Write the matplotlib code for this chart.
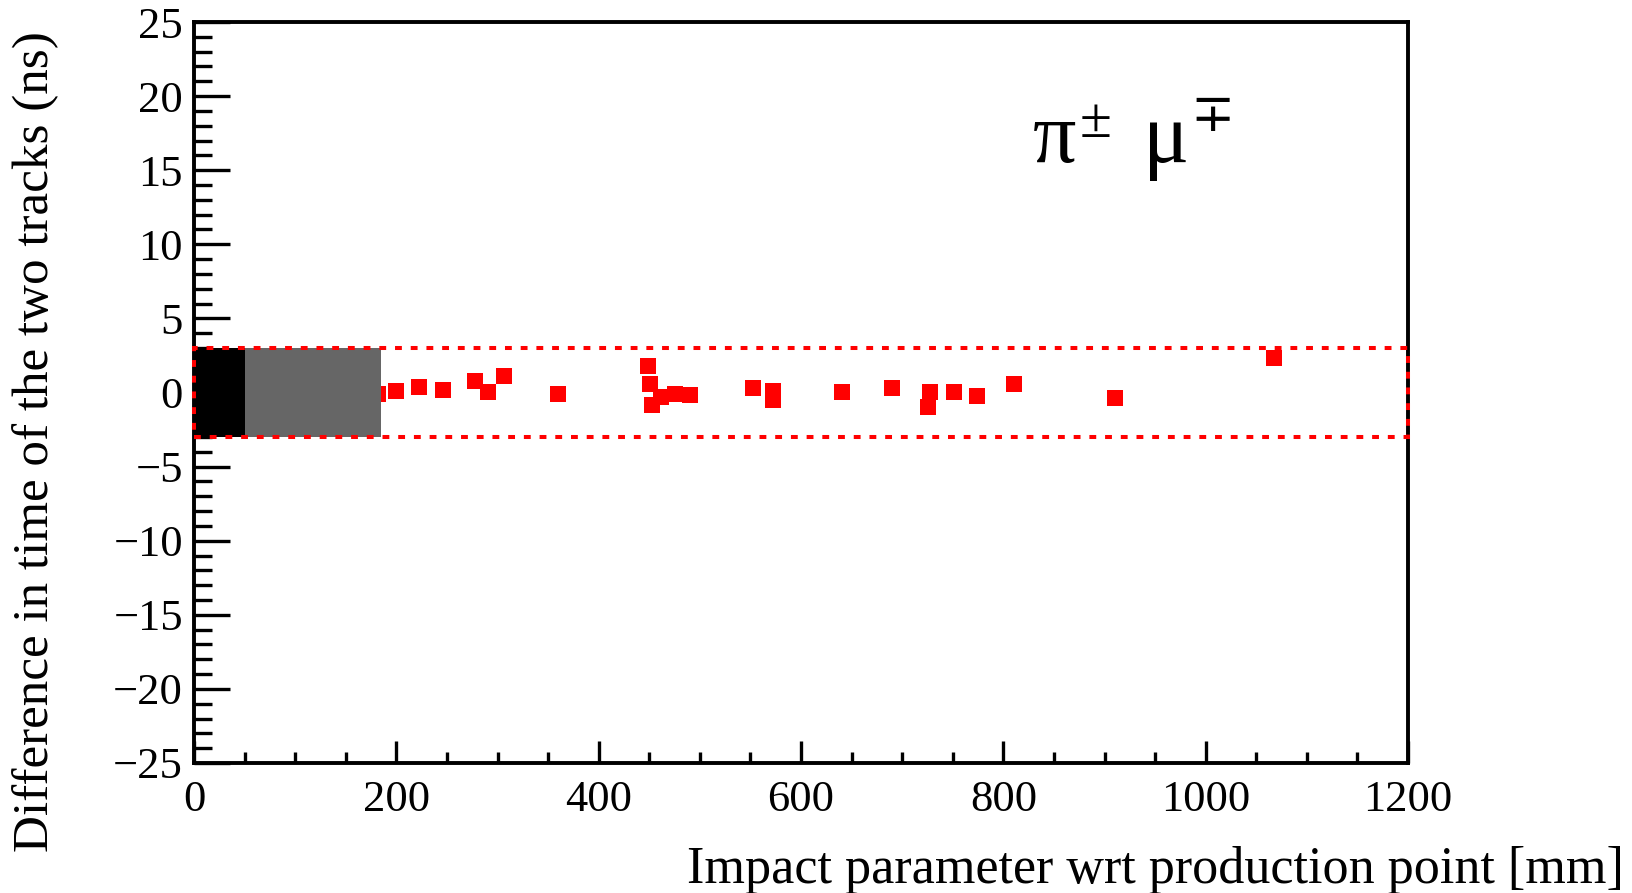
import matplotlib
matplotlib.use("Agg")
import matplotlib.pyplot as plt
from matplotlib.patches import Rectangle
from matplotlib.ticker import MultipleLocator

# Selected pi-mu candidate pairs
impact_mm = [182, 199.6, 222.6, 246.3, 278, 290.5, 306, 359.7,
             448.6, 450.6, 452.3, 461.5, 475.3, 490, 552.4, 572.8, 572.8,
             640.3, 690, 727.3, 726, 751.3, 773.7, 810.3, 910.4, 1067.9]
dt_ns = [-0.10, 0.12, 0.35, 0.15, 0.78, 0.01, 1.09, -0.08,
         1.81, 0.57, -0.84, -0.32, -0.12, -0.17, 0.28, 0.10, -0.51,
         0.03, 0.28, 0.03, -1.00, 0.01, -0.26, 0.57, -0.35, 2.35]

# Timing window and excluded impact-parameter regions
window_ns = 3.0
x_max = 1200
black_region = (0, 50)
gray_region = (50, 185)

xlabel = "Impact parameter wrt production point [mm]"
ylabel = "Difference in time of the two tracks (ns)"

W, H = 1632, 893
fig = plt.figure(figsize=(W / 100, H / 100), dpi=100)
ax = fig.add_axes([194 / W, 1 - 763 / H, (1408 - 194) / W, (763 - 22) / H])

serif = ["Liberation Serif", "DejaVu Serif"]

ax.plot(impact_mm, dt_ns, ls="none", marker="s", ms=11.3, mfc="#ff0000",
        mec="#ff0000", mew=0, zorder=2)

ax.add_patch(Rectangle((black_region[0], -window_ns), black_region[1] - black_region[0],
                       2 * window_ns, fc="black", ec="none", zorder=3))
ax.add_patch(Rectangle((gray_region[0], -window_ns), gray_region[1] - gray_region[0],
                       2 * window_ns, fc="#666666", ec="none", zorder=3))
ax.add_patch(Rectangle((0, -window_ns), x_max, 2 * window_ns, fill=False,
                       ec="#ff0000", lw=2.9, ls=(0, (1.7, 2.2)), zorder=4,
                       clip_on=False))

ax.set_xlim(0, x_max)
ax.set_ylim(-25, 25)
ax.xaxis.set_major_locator(MultipleLocator(200))
ax.xaxis.set_minor_locator(MultipleLocator(50))
ax.yaxis.set_major_locator(MultipleLocator(5))
ax.yaxis.set_minor_locator(MultipleLocator(1))

for s in ax.spines.values():
    s.set_linewidth(2.8)

ax.tick_params(axis="x", which="major", direction="in", length=16, width=2.4,
               pad=12, labelsize=32)
ax.tick_params(axis="x", which="minor", direction="in", length=8, width=2.4)
ax.tick_params(axis="y", which="major", direction="in", length=26, width=2.4,
               pad=8, labelsize=32)
ax.tick_params(axis="y", which="minor", direction="in", length=13, width=2.4)
ax.tick_params(top=False, right=False, which="both")
for lab in ax.get_xticklabels() + ax.get_yticklabels():
    lab.set_family(serif)

fig.text(1624 / W, 1 - 883 / H, xlabel, ha="right", va="baseline",
         fontsize=37.5, family=serif)
fig.text(36 / W, 1 - 31 / H, ylabel, ha="center", va="top", rotation=90,
         fontsize=36.8, family=serif)

# Decay-channel label
fig.text(1033 / W, 1 - 162 / H, "π", ha="left", va="baseline", fontsize=62, family=serif)
fig.text(1080 / W, 1 - 97 / H, "±", ha="left", va="top", fontsize=42, family=serif)
fig.text(1143 / W, 1 - 162 / H, "μ", ha="left", va="baseline", fontsize=62, family=serif)
fig.text(1190 / W, 1 - 94 / H, "∓", ha="left", va="top", fontsize=38, family=serif)

fig.savefig("out.png", dpi=100)
